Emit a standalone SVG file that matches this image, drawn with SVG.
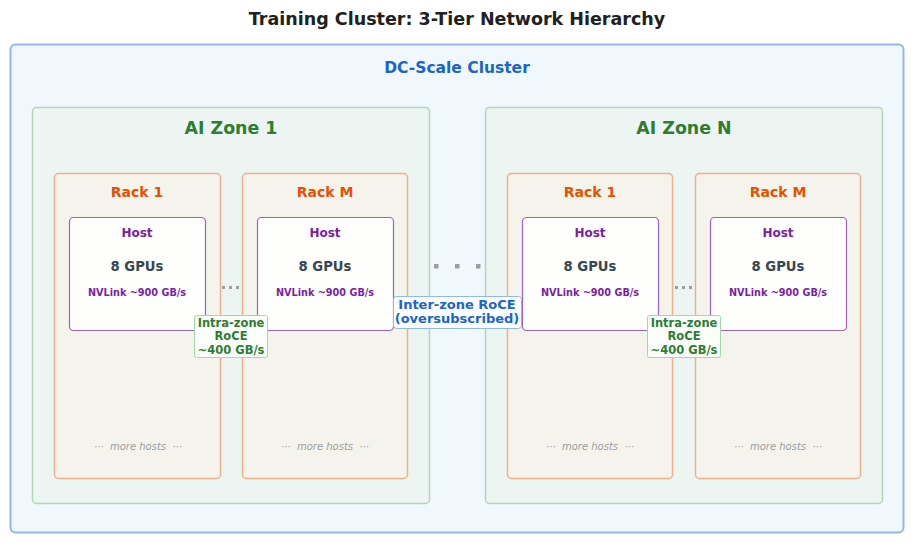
<svg xmlns="http://www.w3.org/2000/svg" width="915" height="546" viewBox="0 0 915 546">
<style>
text{font-family:"DejaVu Sans",sans-serif;font-weight:bold;text-anchor:middle}
.cluster{fill:#f0f7fd;stroke:#90b9e8;stroke-width:2}
.zone{fill:#ecf5f2;stroke:#b3d5b8;stroke-width:1.5}
.rack{fill:#f4f4ec;stroke:#f3b088;stroke-width:1.5}
.host{fill:#fefefd;stroke:#9b63bf;stroke-width:1.2}
.t-title{font-size:17.5px;fill:#212121}
.t-dc{font-size:15.5px;fill:#1a66c8}
.t-zone{font-size:17.4px;fill:#2e7d32}
.t-rack{font-size:14px;fill:#e65100}
.t-host{font-size:12px;fill:#7b1fa2}
.t-gpu{font-size:13.2px;fill:#37474f}
.t-nv{font-size:9.7px;fill:#7b1fa2}
.t-more{font-size:10px;fill:#9e9e9e;font-style:italic;font-weight:normal;white-space:pre}
.lbl-g{fill:#fbfdfb;stroke:#a5d6a7;stroke-width:1}
.lbl-b{fill:#fbfdff;stroke:#90b9e8;stroke-width:1}
.t-intra{font-size:11.5px;fill:#2e7d32}
.t-inter{font-size:13px;fill:#1a66c8}
.dot{fill:#9e9e9e}
</style>
<text class="t-title" x="457" y="25">Training Cluster: 3-Tier Network Hierarchy</text>
<g id="cluster">
<rect class="cluster" x="10.5" y="44.5" width="893" height="488" rx="5"/>
<text class="t-dc" x="457" y="73">DC-Scale Cluster</text>
</g>
<g id="zone1">
<rect class="zone" x="32.5" y="107.5" width="397" height="396" rx="4"/>
<text class="t-zone" x="231" y="134">AI Zone 1</text>
</g>
<g id="zoneN">
<rect class="zone" x="485.5" y="107.5" width="397" height="396" rx="4"/>
<text class="t-zone" x="684" y="134">AI Zone N</text>
</g>
<g id="z1-rack1">
<rect class="rack" x="54.5" y="173.5" width="166" height="305" rx="4"/>
<text class="t-rack" x="137" y="197">Rack 1</text>
<text class="t-more" x="138" y="450" xml:space="preserve">···  more hosts  ···</text>
</g>
<g id="z1-rackM">
<rect class="rack" x="242.5" y="173.5" width="165" height="305" rx="4"/>
<text class="t-rack" x="325" y="197">Rack M</text>
<text class="t-more" x="325" y="450" xml:space="preserve">···  more hosts  ···</text>
</g>
<g id="zN-rack1">
<rect class="rack" x="507.5" y="173.5" width="165" height="305" rx="4"/>
<text class="t-rack" x="590" y="197">Rack 1</text>
<text class="t-more" x="590" y="450" xml:space="preserve">···  more hosts  ···</text>
</g>
<g id="zN-rackM">
<rect class="rack" x="695.5" y="173.5" width="165" height="305" rx="4"/>
<text class="t-rack" x="778" y="197">Rack M</text>
<text class="t-more" x="778" y="450" xml:space="preserve">···  more hosts  ···</text>
</g>
<g id="z1-host1">
<rect class="host" x="69.5" y="217.5" width="136" height="113" rx="4"/>
<text class="t-host" x="137" y="237">Host</text>
<text class="t-gpu" x="137" y="271">8 GPUs</text>
<text class="t-nv" x="137" y="296">NVLink ~900 GB/s</text>
</g>
<g id="z1-hostM">
<rect class="host" x="257.5" y="217.5" width="136" height="113" rx="4"/>
<text class="t-host" x="325" y="237">Host</text>
<text class="t-gpu" x="325" y="271">8 GPUs</text>
<text class="t-nv" x="325" y="296">NVLink ~900 GB/s</text>
</g>
<g id="zN-host1">
<rect class="host" x="522.5" y="217.5" width="136" height="113" rx="4"/>
<text class="t-host" x="590" y="237">Host</text>
<text class="t-gpu" x="590" y="271">8 GPUs</text>
<text class="t-nv" x="590" y="296">NVLink ~900 GB/s</text>
</g>
<g id="zN-hostM">
<rect class="host" x="710.5" y="217.5" width="136" height="113" rx="4"/>
<text class="t-host" x="778" y="237">Host</text>
<text class="t-gpu" x="778" y="271">8 GPUs</text>
<text class="t-nv" x="778" y="296">NVLink ~900 GB/s</text>
</g>
<g id="connectors">
<rect class="dot" x="222" y="286" width="3" height="3"/>
<rect class="dot" x="229" y="286" width="3" height="3"/>
<rect class="dot" x="236" y="286" width="3" height="3"/>
<rect class="dot" x="675" y="286" width="3" height="3"/>
<rect class="dot" x="682" y="286" width="3" height="3"/>
<rect class="dot" x="689" y="286" width="3" height="3"/>
<rect class="dot" x="434" y="264" width="4.5" height="4.5"/>
<rect class="dot" x="455" y="264" width="4.5" height="4.5"/>
<rect class="dot" x="476" y="264" width="4.5" height="4.5"/>
<rect class="lbl-g" x="194.5" y="315.5" width="73" height="42" rx="2"/>
<text class="t-intra" x="231" y="327">Intra-zone</text>
<text class="t-intra" x="231" y="340">RoCE</text>
<text class="t-intra" x="231" y="354">~400 GB/s</text>
<rect class="lbl-g" x="647.5" y="315.5" width="73" height="42" rx="2"/>
<text class="t-intra" x="684" y="327">Intra-zone</text>
<text class="t-intra" x="684" y="340">RoCE</text>
<text class="t-intra" x="684" y="354">~400 GB/s</text>
<rect class="lbl-b" x="393.5" y="296.5" width="128" height="32" rx="3"/>
<text class="t-inter" x="457" y="309">Inter-zone RoCE</text>
<text class="t-inter" x="457" y="323">(oversubscribed)</text>
</g>
</svg>
